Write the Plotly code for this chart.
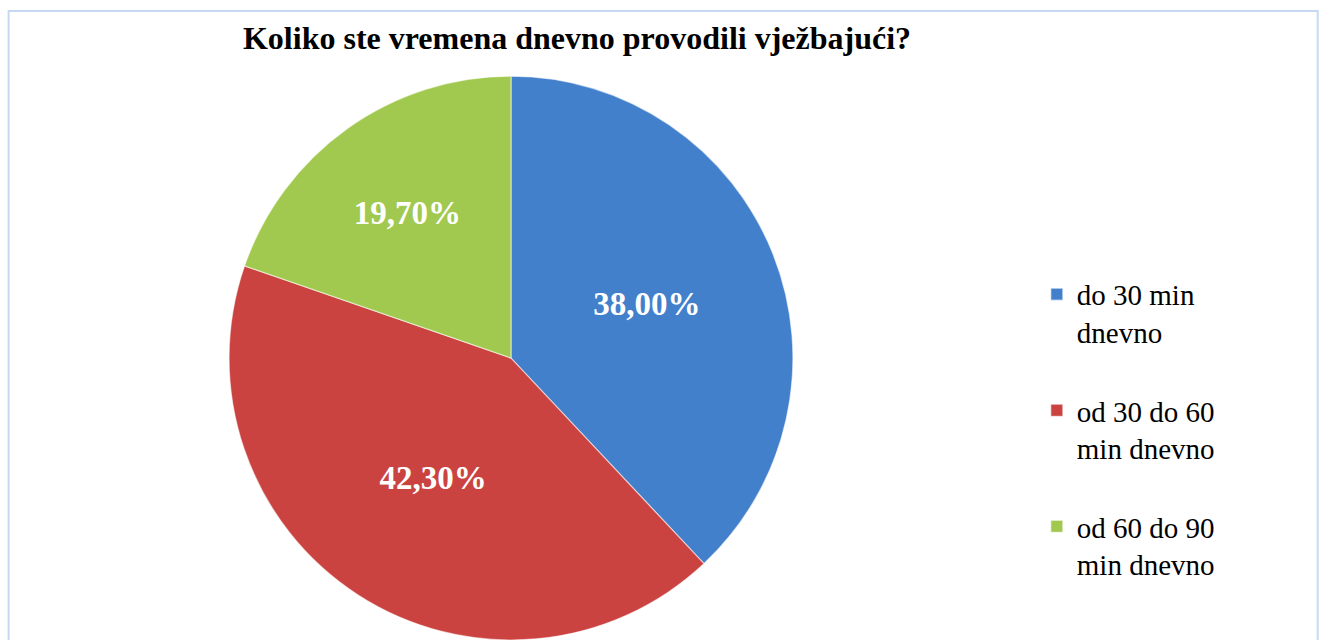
import plotly.graph_objects as go

# data
categories = ['do 30 min<br>dnevno<br> ', 'od 30 do 60<br>min dnevno<br> ', 'od 60 do 90<br>min dnevno<br> ']
shares = [38.0, 42.3, 19.7]
share_labels = ['38,00%', '42,30%', '19,70%']
title_text = 'Koliko ste vremena dnevno provodili vježbajući?'

colors = ['#4380CC', '#CB4340', '#A2C94F']
serif = 'Liberation Serif'

fig = go.Figure(go.Pie(
    labels=categories,
    values=shares,
    text=share_labels,
    textinfo='text',
    textposition='inside',
    insidetextorientation='horizontal',
    textfont=dict(family=serif, size=33, color='white', weight='bold'),
    sort=False,
    direction='clockwise',
    rotation=0,
    marker=dict(colors=colors, line=dict(color='rgba(255,255,255,0.55)', width=1.2)),
    domain=dict(x=[0.1728, 0.5985], y=[0.0, 0.881]),
    hoverinfo='skip',
))

fig.update_layout(
    width=1325, height=640,
    margin=dict(l=0, r=0, t=0, b=0),
    paper_bgcolor='white',
    plot_bgcolor='white',
    font=dict(family=serif, color='black'),
    title=dict(text='<b>' + title_text + '</b>', x=0.4355, xanchor='center',
               y=0.9405, yanchor='middle', font=dict(family=serif, size=32, color='black')),
    legend=dict(x=0.7825, xanchor='left', y=0.58, yanchor='top',
                font=dict(family=serif, size=29, color='black'),
                valign='top', itemwidth=30),
    shapes=[dict(type='rect', xref='paper', yref='paper', x0=0.0065, x1=0.9945,
                 y0=-0.05, y1=0.983, line=dict(color='#C6D9F1', width=2))],
)

fig.write_html('out.html', config={'displayModeBar': False},
               post_script="document.body.style.margin='0px';")
